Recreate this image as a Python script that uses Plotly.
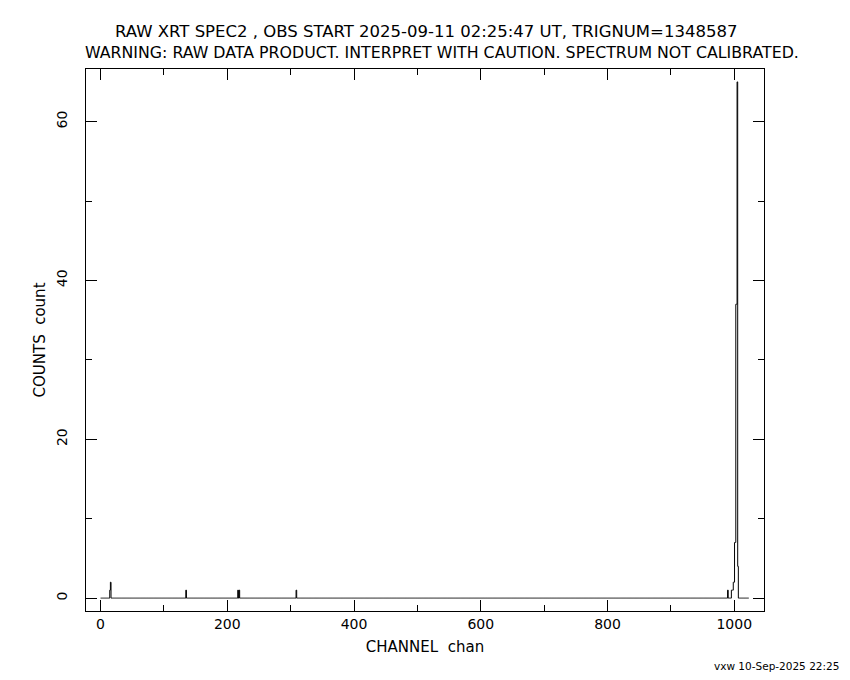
import plotly.graph_objects as go

# ---- data ----
n_channels = 1024
# nonzero channels of the raw spectrum (all others are 0)
peak_channels = [15, 16, 135, 217, 219, 309, 990, 996, 997, 998, 999, 1000, 1001, 1002, 1003, 1004, 1005, 1006]
peak_counts   = [1,  2,  1,   1,   1,   1,   1,   1,   1,   1,   2,   2,    7,    7,    37,   37,   65,   4]

x_tick_vals = [0, 200, 400, 600, 800, 1000]
y_tick_vals = [0, 20, 40, 60]

title_line1 = "RAW XRT SPEC2 , OBS START 2025-09-11 02:25:47 UT, TRIGNUM=1348587"
title_line2 = "WARNING: RAW DATA PRODUCT. INTERPRET WITH CAUTION. SPECTRUM NOT CALIBRATED."
x_label = "CHANNEL\u00a0\u00a0chan"
y_label = "COUNTS\u00a0\u00a0count"
stamp = "vxw 10-Sep-2025 22:25"

channels = list(range(n_channels))
counts = [0] * n_channels
for c, v in zip(peak_channels, peak_counts):
    counts[c] = v

FONT = "DejaVu Sans"
OFF = 8  # page body margin
W, H = 850 - 2 * OFF, 680 - 2 * OFF
L, R, T, B = 86 - OFF, (850 - OFF) - 764, 69 - OFF, (680 - OFF) - 611

fig = go.Figure()
fig.add_trace(go.Scatter(
    x=channels, y=counts, mode="lines",
    line=dict(color="black", width=1, shape="hvh"),
    hoverinfo="skip", showlegend=False,
))

axis_common = dict(
    showgrid=False, zeroline=False, showline=True, linecolor="black", linewidth=1,
    mirror="allticks", ticks="inside", ticklen=11, tickwidth=1, tickcolor="black",
    tickfont=dict(family=FONT, size=14, color="black"),
)

fig.update_layout(
    width=W, height=H,
    paper_bgcolor="white", plot_bgcolor="white",
    margin=dict(l=L, r=R, t=T, b=B, pad=0),
    xaxis=dict(
        range=[-23, 1047], tickvals=x_tick_vals,
        minor=dict(dtick=100, tick0=0, ticks="inside", ticklen=6, tickcolor="black", tickwidth=1),
        title=dict(text=x_label, font=dict(family=FONT, size=15, color="black"), standoff=10),
        **axis_common,
    ),
    yaxis=dict(
        range=[-1.625, 66.625], tickvals=y_tick_vals, tickangle=-90, ticklabelstandoff=12,
        minor=dict(dtick=10, tick0=0, ticks="inside", ticklen=6, tickcolor="black", tickwidth=1),
        title=dict(text=y_label, font=dict(family=FONT, size=15, color="black"), standoff=5),
        **axis_common,
    ),
)

pw, ph = W - L - R, H - T - B
def ann(text, px, py, size, anchor):
    return dict(text=text, x=(px - OFF - L) / pw, y=1 - (py - OFF - T) / ph,
                xref="paper", yref="paper", showarrow=False,
                font=dict(family=FONT, size=size, color="black"),
                xanchor=anchor, yanchor="middle")

fig.update_layout(annotations=[
    ann(title_line1, 426, 31, 16.5, "center"),
    ann(title_line2, 442, 53, 15.8, "center"),
    ann(stamp, 841, 666, 10.5, "right"),
])

fig.write_html("out.html")
